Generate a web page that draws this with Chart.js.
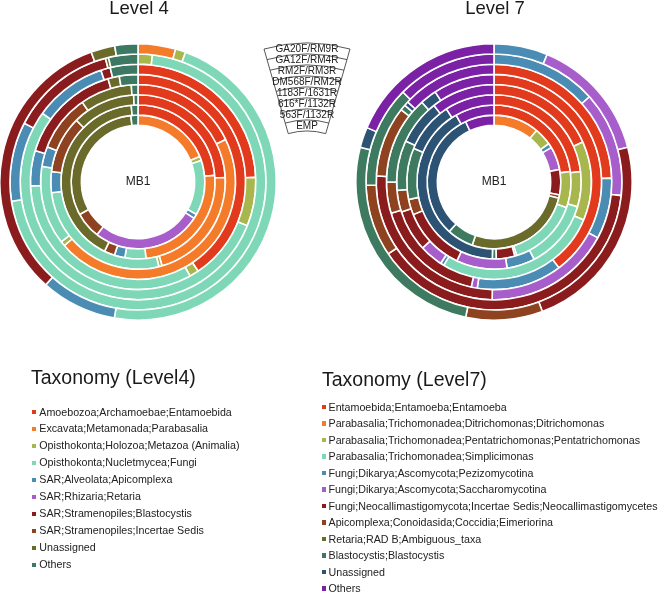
<!DOCTYPE html>
<html><head><meta charset="utf-8">
<script src="https://cdn.jsdelivr.net/npm/chart.js@4.4.1/dist/chart.umd.min.js"></script>
<style>
html,body{margin:0;padding:0;background:#fff;}
#page{position:relative;width:659px;height:592px;overflow:hidden;font-family:"Liberation Sans",Arial,sans-serif;color:#1a1a1a;}
canvas{position:absolute;}
.title{position:absolute;font-size:18.5px;line-height:18.5px;white-space:nowrap;transform:translateX(-50%);}
.legTitle{position:absolute;font-size:19.5px;line-height:19.5px;white-space:nowrap;}
.item{position:absolute;font-size:10.7px;line-height:10.7px;white-space:nowrap;color:#222;}
.sq{position:absolute;width:4.5px;height:4.5px;}
svg{position:absolute;left:0;top:0;}
</style></head><body>
<div id="page">
  <canvas id="c4" width="278" height="278" style="left:-1px;top:43px"></canvas>
  <canvas id="c7" width="278" height="278" style="left:355px;top:43px"></canvas>
  <svg id="fan" width="659" height="592"></svg>
</div>
<script>
// ---------- data ----------
const chartTitles = ['Level 4', 'Level 7'];
const legendTitles = ['Taxonomy (Level4)', 'Taxonomy (Level7)'];
const centerLabel = 'MB1';
const primerLabels = ['GA20F/RM9R','GA12F/RM4R','RM2F/RM3R','DM568F/RM2R','1183F/1631R','616*F/1132R','563F/1132R','EMP'];

const level4Categories = [
  'Amoebozoa;Archamoebae;Entamoebida',
  'Excavata;Metamonada;Parabasalia',
  'Opisthokonta;Holozoa;Metazoa (Animalia)',
  'Opisthokonta;Nucletmycea;Fungi',
  'SAR;Alveolata;Apicomplexa',
  'SAR;Rhizaria;Retaria',
  'SAR;Stramenopiles;Blastocystis',
  'SAR;Stramenopiles;Incertae Sedis',
  'Unassigned',
  'Others'
];
const level4Colors = ['#e23a1d','#f47b2a','#a8b64e','#7ed8b8','#4b8cb5','#a75ecb','#8b1c1e','#8f421f','#6a6b2b','#3d7863'];

// Level 4 relative abundance (%) per primer set, in category order
const l4_GA20F_RM9R   = [0, 4.4, 1.2, 47.2, 8.9, 0, 32.9, 0, 2.8, 2.7];
const l4_GA12F_RM4R   = [0, 0, 1.8, 70.8, 10.0, 0, 13.3, 0, 0.4, 3.7];
const l4_RM2F_RM3R    = [24.4, 0, 6.7, 53.9, 10.0, 0, 1.3, 0, 0, 3.8];
const l4_DM568F_RM2R  = [40.6, 0, 1.4, 32.5, 5.3, 0, 15.8, 0, 1.7, 2.8];
const l4_1183F_1631R  = [17.8, 45.8, 0.8, 13.1, 3.3, 0, 0, 9.4, 8.6, 1.1];
const l4_616F_1132R   = [24.2, 21.4, 0.6, 26.9, 3.9, 0, 0, 10.6, 11.7, 0.8];
const l4_563F_1132R   = [23.6, 24.7, 0, 4.4, 2.2, 0, 0, 2.2, 41.4, 1.4];
const l4_EMP          = [0, 18.8, 1.0, 13.3, 1.1, 26.4, 0, 6.4, 31.4, 1.7];

const level7Categories = [
  'Entamoebida;Entamoeba;Entamoeba',
  'Parabasalia;Trichomonadea;Ditrichomonas;Ditrichomonas',
  'Parabasalia;Trichomonadea;Pentatrichomonas;Pentatrichomonas',
  'Parabasalia;Trichomonadea;Simplicimonas',
  'Fungi;Dikarya;Ascomycota;Pezizomycotina',
  'Fungi;Dikarya;Ascomycota;Saccharomycotina',
  'Fungi;Neocallimastigomycota;Incertae Sedis;Neocallimastigomycetes',
  'Apicomplexa;Conoidasida;Coccidia;Eimeriorina',
  'Retaria;RAD B;Ambiguous_taxa',
  'Blastocystis;Blastocystis',
  'Unassigned',
  'Others'
];
const level7Colors = ['#e23a1d','#f47b2a','#a8b64e','#7ed8b8','#4b8cb5','#a75ecb','#8b1c1e','#8f421f','#6a6b2b','#3d7a5f','#2c5274','#7b21a6'];

const l7_GA20F_RM9R   = [0, 0, 0, 0, 6.3, 14.7, 23.4, 9.0, 0, 25.8, 2.4, 18.6];
const l7_GA12F_RM4R   = [0, 0, 0, 0, 13.4, 13.3, 38.8, 9.1, 0, 12.8, 0, 12.6];
const l7_RM2F_RM3R    = [24.5, 0, 0, 0, 8.4, 17.4, 25.6, 9.7, 0, 0.8, 0.6, 13.1];
const l7_DM568F_RM2R  = [39.7, 0, 0, 0, 12.8, 0.9, 16.9, 4.7, 0, 13.3, 2.5, 9.2];
const l7_1183F_1631R  = [18.3, 0, 13.1, 27.3, 0.6, 3.9, 6.9, 3.6, 0, 8.3, 7.5, 10.6];
const l7_616F_1132R   = [23.1, 0, 6.5, 12.8, 5.2, 9.4, 11.9, 2.9, 0, 9.5, 9.5, 9.2];
const l7_563F_1132R   = [22.8, 0, 7.6, 14.8, 0, 0.4, 3.9, 0, 0, 0.8, 41.4, 8.2];
const l7_EMP          = [0, 11.0, 4.3, 0, 1.1, 5.6, 6.1, 0.8, 26.4, 6.4, 31.3, 7.0];

const level4Series = [l4_GA20F_RM9R, l4_GA12F_RM4R, l4_RM2F_RM3R, l4_DM568F_RM2R, l4_1183F_1631R, l4_616F_1132R, l4_563F_1132R, l4_EMP];
const level7Series = [l7_GA20F_RM9R, l7_GA12F_RM4R, l7_RM2F_RM3R, l7_DM568F_RM2R, l7_1183F_1631R, l7_616F_1132R, l7_563F_1132R, l7_EMP];

// ---------- charts ----------
const centerText = {
  id: 'centerText',
  afterDraw(chart) {
    const meta = chart.getDatasetMeta(0);
    if (!meta.data.length) return;
    const {x, y} = meta.data[0];
    const ctx = chart.ctx;
    ctx.save();
    ctx.font = '12px "Liberation Sans", Arial, sans-serif';
    ctx.fillStyle = '#222';
    ctx.textAlign = 'center';
    ctx.textBaseline = 'middle';
    ctx.fillText(centerLabel, x, y);
    ctx.restore();
  }
};

function makeDonut(id, series, colors, cats) {
  new Chart(document.getElementById(id), {
    type: 'doughnut',
    data: {
      labels: cats,
      datasets: series.map((d, i) => ({
        label: primerLabels[i], data: d, backgroundColor: colors,
        borderColor: '#ffffff', borderWidth: 1.6
      }))
    },
    options: {
      responsive: false, animation: false, cutout: '41%',
      layout: {padding: 0},
      plugins: {legend: {display: false}, tooltip: {enabled: false}}
    },
    plugins: [centerText]
  });
}
makeDonut('c4', level4Series, level4Colors, level4Categories);
makeDonut('c7', level7Series, level7Colors, level7Categories);

// ---------- titles & legends ----------
const page = document.getElementById('page');
function addDiv(cls, text, left, top) {
  const d = document.createElement('div');
  d.className = cls; d.textContent = text;
  d.style.left = left + 'px'; d.style.top = top + 'px';
  page.appendChild(d); return d;
}
addDiv('title', chartTitles[0], 139, -1.1);
addDiv('title', chartTitles[1], 495, -1.1);
addDiv('legTitle', legendTitles[0], 31, 367.8);
addDiv('legTitle', legendTitles[1], 322, 369.8);

function legend(cats, colors, sqX, textX, y0, dy) {
  cats.forEach((c, i) => {
    const cy = y0 + i * dy;
    const s = document.createElement('div');
    s.className = 'sq'; s.style.background = colors[i];
    s.style.left = sqX + 'px'; s.style.top = (cy - 1.75) + 'px';
    page.appendChild(s);
    addDiv('item', c, textX, cy - 5.2);
  });
}
legend(level4Categories, level4Colors, 31.5, 39.3, 411.7, 16.96);
legend(level7Categories, level7Colors, 321.5, 328.5, 406.7, 16.5);

// ---------- primer fan ----------
const svg = document.getElementById('fan');
const NS = 'http://www.w3.org/2000/svg';
const ax = 307, ay = 199, r0 = 68, step = 11, half = 16 * Math.PI / 180;
const pt = (r, a) => [ax + r * Math.sin(a), ay - r * Math.cos(a)];
let dpath = '';
for (let k = 0; k <= primerLabels.length; k++) {
  const r = r0 + step * k;
  const [x1, y1] = pt(r, -half), [x2, y2] = pt(r, half);
  dpath += `M${x1.toFixed(2)},${y1.toFixed(2)} A${r},${r} 0 0 1 ${x2.toFixed(2)},${y2.toFixed(2)} `;
}
const rMax = r0 + step * primerLabels.length;
[-half, half].forEach(a => {
  const [x1, y1] = pt(r0, a), [x2, y2] = pt(rMax, a);
  dpath += `M${x1.toFixed(2)},${y1.toFixed(2)} L${x2.toFixed(2)},${y2.toFixed(2)} `;
});
const p = document.createElementNS(NS, 'path');
p.setAttribute('d', dpath); p.setAttribute('fill', 'none');
p.setAttribute('stroke', '#444'); p.setAttribute('stroke-width', '0.9');
svg.appendChild(p);
primerLabels.forEach((lab, i) => {
  const r = rMax - step * i - step / 2;
  const t = document.createElementNS(NS, 'text');
  t.setAttribute('x', ax); t.setAttribute('y', ay - r);
  t.setAttribute('text-anchor', 'middle'); t.setAttribute('dominant-baseline', 'central');
  t.setAttribute('font-family', '"Liberation Sans", Arial, sans-serif');
  t.setAttribute('font-size', '10'); t.setAttribute('fill', '#222');
  t.textContent = lab;
  svg.appendChild(t);
});
</script>
</body></html>
